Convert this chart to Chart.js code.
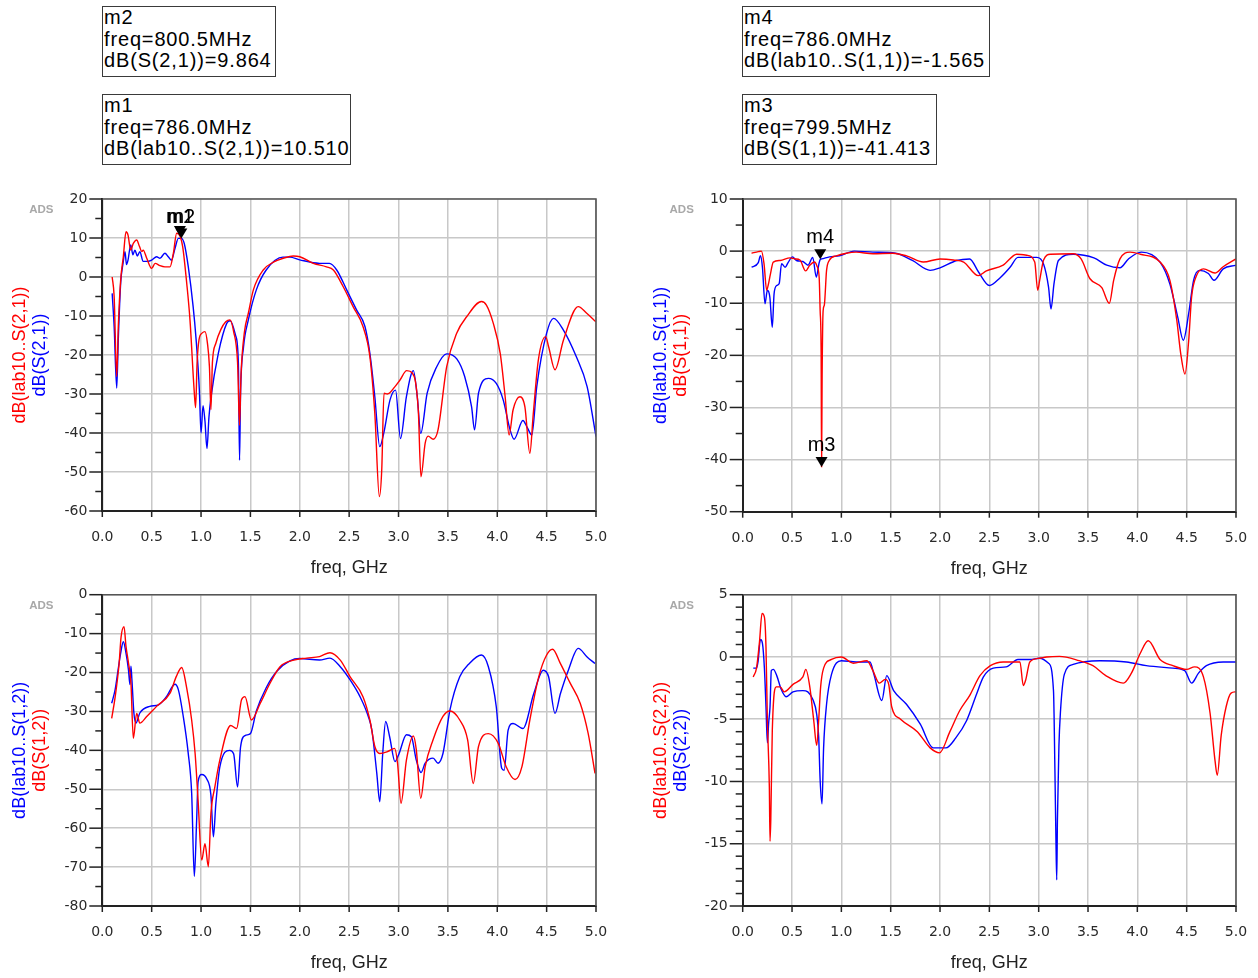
<!DOCTYPE html>
<html><head><meta charset="utf-8">
<script src="https://cdn.jsdelivr.net/npm/chart.js@4.4.1/dist/chart.umd.min.js"></script>
<style>
html,body{margin:0;padding:0;background:#fff;}
body{width:1258px;height:978px;position:relative;overflow:hidden;font-family:"Liberation Sans",Arial,sans-serif;}
.box{position:absolute;box-sizing:border-box;border:1.5px solid #3a3a3a;background:#fff;font-size:20px;line-height:21.5px;letter-spacing:0.85px;color:#000;padding:0 0 0 1px;white-space:pre;}
canvas{position:absolute;}
</style></head>
<body>
<div class="box" style="left:102px;top:6px;width:174px;height:71px">m2
freq=800.5MHz
dB(S(2,1))=9.864</div>
<div class="box" style="left:102px;top:94px;width:249px;height:71px">m1
freq=786.0MHz
dB(lab10..S(2,1))=10.510</div>
<div class="box" style="left:742px;top:6px;width:248px;height:71px">m4
freq=786.0MHz
dB(lab10..S(1,1))=-1.565</div>
<div class="box" style="left:742px;top:94px;width:195px;height:71px">m3
freq=799.5MHz
dB(S(1,1))=-41.413</div>

<canvas id="cTL" width="629" height="400" style="left:0;top:180px"></canvas>
<canvas id="cTR" width="629" height="400" style="left:629px;top:180px"></canvas>
<canvas id="cBL" width="629" height="398" style="left:0;top:580px"></canvas>
<canvas id="cBR" width="629" height="398" style="left:629px;top:580px"></canvas>

<script>
// ---------- DATA ----------
const xTicks = [0.0,0.5,1.0,1.5,2.0,2.5,3.0,3.5,4.0,4.5,5.0];

// Top-left: dB(lab10..S(2,1)) red, dB(S(2,1)) blue
const tlRedF = [0.10,0.12,0.146,0.162,0.186,0.213,0.24,0.26,0.288,0.314,0.348,0.377,0.40,0.414,0.45,0.50,0.535,0.584,0.634,0.686,0.72,0.753,0.786,0.814,0.855,0.888,0.93,0.945,0.96,0.98,1.01,1.04,1.065,1.085,1.10,1.115,1.15,1.20,1.25,1.293,1.33,1.37,1.39,1.405,1.44,1.479,1.53,1.63,1.733,1.833,1.934,2.0,2.137,2.27,2.34,2.44,2.54,2.64,2.71,2.76,2.806,2.83,2.853,2.887,2.964,3.015,3.083,3.14,3.2,3.227,3.27,3.3,3.352,3.40,3.488,3.589,3.69,3.84,3.89,3.96,4.03,4.08,4.12,4.16,4.23,4.28,4.33,4.365,4.416,4.49,4.52,4.585,4.67,4.82,4.906,5.0];
const tlRedDb = [0,-5,-25.5,-12.7,-0.8,5.2,11.6,10.8,6.9,8.6,9.5,7.8,6.5,6.9,4.8,2.2,3.5,2.9,2.6,2.6,6.1,11.2,10.5,7.8,-1.6,-11,-29,-33.5,-22,-16,-14.4,-14,-17,-23,-34,-22,-17,-13.5,-11.5,-11,-14,-22,-38,-25,-14,-9.3,-3.3,1.8,3.8,4.8,5.4,5.2,3.5,2.6,1.8,-2.5,-7.6,-12.7,-20.4,-35,-56.3,-49.5,-29.8,-30,-28.1,-26.4,-24,-24.6,-34.1,-51.2,-42.6,-40.8,-41.6,-39.2,-23,-14.4,-10.2,-6.3,-7.2,-11.9,-19.6,-30.7,-40.5,-34.1,-30.7,-33.3,-45.2,-35,-21.3,-15.3,-17.9,-23.8,-16.2,-7.6,-9.3,-11.5];
const tlBlueF = [0.10,0.12,0.146,0.162,0.186,0.21,0.23,0.245,0.26,0.288,0.31,0.33,0.355,0.38,0.414,0.46,0.50,0.55,0.584,0.634,0.668,0.70,0.736,0.77,0.80,0.83,0.871,0.92,0.95,0.983,1.0,1.02,1.04,1.06,1.08,1.10,1.175,1.26,1.295,1.35,1.378,1.39,1.40,1.43,1.479,1.56,1.66,1.83,1.9,2.0,2.2,2.3,2.374,2.475,2.576,2.66,2.71,2.76,2.81,2.85,2.914,2.97,3.02,3.08,3.15,3.19,3.225,3.29,3.387,3.488,3.59,3.67,3.74,3.77,3.81,3.91,3.99,4.06,4.13,4.17,4.26,4.3,4.35,4.4,4.5,4.57,4.67,4.8,4.91,5.0];
const tlBlueDb = [-4.2,-12.7,-28.5,-16,-1.6,3.5,6.5,3.2,4.3,8.2,5.7,6.9,5.4,6.5,4,4,4.3,5.2,4.8,6.1,5.2,4.3,7.3,9.9,9.9,8.6,2.6,-7.6,-16,-29,-40,-33,-37,-44,-36,-31,-19.6,-11.9,-11.2,-15,-22,-47,-30,-18,-11,-3.3,1.8,5.1,5.1,4.4,3.5,3.5,1.8,-3.3,-8.5,-12.7,-19.6,-30.7,-43.5,-40.1,-31.5,-29,-41.4,-30.7,-24,-30.7,-40.1,-29.8,-23,-19.7,-21,-25.5,-33.3,-39.2,-29.8,-26,-27.3,-31.5,-39.2,-41.6,-36.8,-38.4,-40.5,-28.1,-14.4,-10.6,-13.6,-20.4,-28.1,-40.9];

// Top-right: dB(lab10..S(1,1)) blue, dB(S(1,1)) red
const trRedF = [0.09,0.158,0.19,0.216,0.243,0.26,0.28,0.31,0.38,0.48,0.53,0.58,0.638,0.68,0.73,0.753,0.775,0.785,0.795,0.7995,0.805,0.815,0.827,0.85,0.877,0.95,1.05,1.15,1.32,1.52,1.66,1.83,2.0,2.135,2.24,2.388,2.47,2.64,2.777,2.88,2.96,2.99,3.01,3.05,3.12,3.35,3.43,3.52,3.64,3.716,3.76,3.824,3.926,4.03,4.23,4.33,4.4,4.44,4.483,4.52,4.55,4.6,4.67,4.787,4.87,5.0];
const trRedDb = [-0.4,-0.1,0,-2.4,-7.5,-6.4,-4.5,-2.1,-1.8,-1.3,-1.5,-1.7,-3.8,-2.7,-2.1,-2.9,-5,-11.4,-19.7,-41.4,-24,-11.5,-10.4,-3.7,-1.8,-0.9,-0.4,-0.2,-0.5,-0.4,-0.9,-2.1,-1.5,-1.7,-2.1,-4.7,-3.8,-2.7,-0.6,-0.8,-2.1,-7.5,-5.6,-1.7,-0.6,-0.5,-1.5,-5.3,-7,-10,-5.6,-1.5,-0.2,-0.6,-2.1,-5.6,-13.3,-19.7,-23.6,-17.3,-8.8,-4.7,-3.4,-4.2,-3,-1.5];
const trBlueF = [0.09,0.158,0.18,0.2,0.226,0.25,0.275,0.3,0.318,0.345,0.37,0.394,0.43,0.46,0.505,0.545,0.61,0.662,0.71,0.746,0.773,0.786,0.8,0.88,0.98,1.13,1.32,1.55,1.72,1.9,2.0,2.17,2.3,2.39,2.5,2.61,2.71,2.79,2.98,3.05,3.1,3.125,3.155,3.2,3.35,3.56,3.69,3.824,3.91,4.04,4.23,4.33,4.41,4.466,4.52,4.57,4.63,4.72,4.777,4.87,5.0];
const trBlueDb = [-3.1,-2.2,-0.9,-3.1,-10.1,-7.5,-8.8,-14.6,-8.2,-6.6,-6.2,-2.4,-3.1,-2.2,-1.1,-1.8,-2,-2.7,-1.2,-5,-2.4,-1.6,-1.5,-1.1,-0.9,0,-0.2,-0.4,-1.8,-3.7,-3.2,-1.8,-1.5,-4,-6.6,-5.1,-3.1,-1.2,-1.2,-2.5,-6.9,-11.1,-6.3,-1.8,-0.6,-1.3,-2.7,-3.2,-1.5,-0.2,-2.1,-6.3,-12.7,-17.1,-12,-5.6,-3.7,-4.3,-5.6,-3.4,-2.7];

// Bottom-left: dB(lab10..S(1,2)) blue, dB(S(1,2)) red
const blBlueF = [0.095,0.13,0.16,0.186,0.213,0.24,0.265,0.28,0.29,0.30,0.32,0.341,0.38,0.48,0.57,0.65,0.736,0.77,0.82,0.87,0.905,0.932,0.955,0.97,1.007,1.057,1.10,1.125,1.15,1.19,1.29,1.33,1.37,1.40,1.445,1.50,1.56,1.66,1.77,1.90,2.0,2.2,2.306,2.41,2.51,2.61,2.694,2.73,2.78,2.81,2.84,2.87,2.91,2.964,3.006,3.08,3.13,3.18,3.228,3.27,3.35,3.40,3.45,3.521,3.62,3.72,3.84,3.91,3.99,4.045,4.07,4.11,4.16,4.26,4.37,4.466,4.52,4.585,4.64,4.72,4.82,4.91,4.99];
const blBlueDb = [-27.9,-24.4,-19.3,-15,-12.1,-15,-19.3,-23.1,-18.4,-21.9,-30.4,-33,-30.4,-28.7,-28.3,-26.2,-23,-24.4,-31.3,-40.7,-51,-72.4,-58.3,-48.1,-46.2,-47.3,-51.5,-62.2,-53.7,-44.3,-40,-40.9,-49.4,-39.2,-36.2,-35.7,-29.9,-23.9,-19.6,-17,-16.4,-16.8,-16.3,-18.5,-21.9,-26.2,-31.3,-34.8,-45.9,-53.2,-40.8,-32.6,-36.5,-42.9,-40.8,-36,-36.5,-42.5,-45.7,-43.3,-42,-43.3,-40.8,-29.6,-21.1,-17.6,-15.5,-18.5,-28.8,-44.6,-45.1,-34.8,-33.1,-34.4,-25.4,-19.4,-21.1,-30.5,-25.4,-19.4,-13.8,-16,-17.7];
const blRedF = [0.095,0.13,0.17,0.19,0.22,0.24,0.265,0.29,0.314,0.348,0.38,0.45,0.55,0.686,0.75,0.804,0.855,0.905,0.94,0.97,1.007,1.04,1.074,1.10,1.14,1.19,1.30,1.36,1.41,1.445,1.51,1.60,1.70,1.80,1.94,2.07,2.2,2.306,2.41,2.51,2.64,2.71,2.76,2.81,2.89,2.96,2.99,3.025,3.08,3.15,3.18,3.225,3.27,3.35,3.45,3.52,3.62,3.70,3.757,3.81,3.91,4.01,4.09,4.18,4.25,4.33,4.42,4.50,4.56,4.64,4.74,4.84,4.92,4.99];
const blRedDb = [-31.8,-26.3,-17.8,-10.9,-8.2,-13.3,-17.5,-22.6,-36.9,-30.5,-33,-31.3,-28.7,-25.3,-21,-18.7,-24,-32.2,-40.8,-52.8,-68.2,-64,-69.9,-56.2,-49.4,-42.5,-33.6,-34.4,-27,-26.2,-32.2,-27.9,-22.7,-18.5,-16.8,-16.3,-15.9,-14.9,-16.8,-21.1,-26.2,-32.2,-39,-40.8,-40.3,-39.5,-43.3,-53.6,-42.5,-36.3,-39.8,-52.3,-44.2,-37.3,-31.3,-29.9,-32.2,-37.3,-48.5,-39,-35.7,-38.2,-44.2,-47.5,-44.2,-32.2,-21.1,-15.5,-14,-17.7,-22.8,-27.9,-35.6,-45.9];

// Bottom-right: dB(lab10..S(2,2)) red, dB(S(2,2)) blue
const brRedF = [0.107,0.14,0.17,0.196,0.22,0.236,0.25,0.27,0.277,0.285,0.30,0.34,0.38,0.42,0.51,0.61,0.64,0.68,0.72,0.75,0.77,0.79,0.82,0.90,1.0,1.12,1.26,1.32,1.385,1.445,1.48,1.51,1.60,1.77,1.90,1.995,2.1,2.2,2.3,2.405,2.51,2.64,2.81,2.844,2.87,2.91,3.01,3.08,3.21,3.41,3.55,3.68,3.858,3.94,4.03,4.11,4.23,4.36,4.5,4.58,4.67,4.737,4.787,4.81,4.85,4.9,4.95,5.0];
const brRedDb = [-1.6,-0.9,1.2,3.5,3.2,0.8,-5.1,-10.4,-14.8,-13,-5.9,-2.4,-2.4,-2.8,-2.2,-1.6,-1.0,-2.4,-5.1,-7.1,-5.1,-2.4,-0.9,-0.2,0,-0.5,-0.3,-1.1,-2.1,-1.8,-2.2,-4.0,-5.0,-6.0,-7.3,-7.7,-6.0,-4.3,-3.1,-1.5,-0.7,-0.4,-0.4,-2.3,-1.8,-0.4,-0.1,0,0.05,-0.3,-0.7,-1.5,-2.1,-1.3,0.3,1.3,-0.2,-0.7,-1.0,-0.8,-1.6,-4.5,-8.3,-9.5,-6.3,-4.0,-2.9,-2.8];
const brBlueF = [0.107,0.14,0.155,0.18,0.2,0.22,0.236,0.25,0.263,0.277,0.29,0.31,0.345,0.39,0.44,0.51,0.61,0.66,0.71,0.75,0.77,0.785,0.804,0.82,0.85,0.90,1.0,1.15,1.29,1.33,1.41,1.46,1.53,1.66,1.80,1.93,2.06,2.16,2.27,2.37,2.44,2.54,2.67,2.79,2.91,3.01,3.10,3.15,3.165,3.175,3.183,3.19,3.205,3.22,3.26,3.35,3.62,3.89,4.09,4.36,4.48,4.55,4.62,4.70,4.87,5.0];
const brBlueDb = [-0.9,-0.9,-0.4,1.4,1.1,-0.9,-4.0,-6.9,-5.3,-4.0,-1.1,-1.0,-1.5,-2.6,-3.2,-2.8,-2.7,-2.8,-3.4,-4.6,-6.4,-9.9,-11.8,-7.3,-3.8,-1.4,-0.3,-0.4,-0.4,-1.4,-3.5,-1.5,-2.7,-3.8,-5.4,-7.3,-7.3,-6.5,-5.1,-3.0,-1.6,-0.9,-0.8,-0.2,-0.2,-0.1,-0.5,-2.7,-9.3,-14.7,-17.9,-13.1,-7.2,-4.5,-1.4,-0.6,-0.3,-0.4,-0.7,-0.9,-1.1,-2.1,-1.3,-0.7,-0.4,-0.4];

// markers [label, freq GHz, dB]
const tlMarkers = [["m1",0.786,10.510],["m2",0.8005,9.864]];
const trMarkers = [["m4",0.786,-1.565],["m3",0.7995,-41.413]];

// ---------- DRAWING ----------
const RED = '#ff0000', BLUE = '#0000ff';
const TICK_FONT = {family:'"DejaVu Sans", Verdana, sans-serif', size:14};

const framePlugin = {
  id:'frame',
  afterDraw(chart, args, o) {
    const ctx = chart.ctx, a = chart.chartArea, xs = chart.scales.x, ys = chart.scales.y;
    ctx.save();
    ctx.strokeStyle = '#555'; ctx.lineWidth = 1.6;
    ctx.beginPath(); ctx.moveTo(a.left, a.top); ctx.lineTo(a.right, a.top); ctx.lineTo(a.right, a.bottom); ctx.stroke();
    ctx.strokeStyle = '#222'; ctx.lineWidth = 1.5;
    const n = Math.round((ys.max - ys.min) / o.minor);
    for (let i = 0; i <= n; i++) {
      const v = ys.min + i * o.minor;
      const py = ys.getPixelForValue(v);
      const r = v / o.major, major = Math.abs(r - Math.round(r)) < 1e-6;
      const len = major ? 13 : 7;
      ctx.beginPath(); ctx.moveTo(a.left - len, py); ctx.lineTo(a.left, py); ctx.stroke();
    }
    xTicks.forEach(v => {
      const px = xs.getPixelForValue(v);
      ctx.beginPath(); ctx.moveTo(px, a.bottom); ctx.lineTo(px, a.bottom + 6); ctx.stroke();
    });
    ctx.fillStyle = '#a8a8a8'; ctx.font = 'bold 11.5px "Liberation Sans", Arial, sans-serif';
    ctx.textAlign = 'center'; ctx.textBaseline = 'middle';
    ctx.fillText('ADS', a.left - 61, a.top + 11);
    ctx.font = '18px "Liberation Sans", Arial, sans-serif';
    const cy = (a.top + a.bottom) / 2;
    o.titles.forEach((t, i) => {
      ctx.save();
      ctx.translate(a.left - 82 + i * 20, cy);
      ctx.rotate(-Math.PI / 2);
      ctx.fillStyle = t[1];
      ctx.fillText(t[0], 0, 0);
      ctx.restore();
    });
    ctx.fillStyle = '#222';
    ctx.fillText('freq, GHz', (a.left + a.right) / 2, a.bottom + 57);
    // markers: triangle tip on the trace value, label above
    ctx.font = '20px "Liberation Sans", Arial, sans-serif';
    ctx.textBaseline = 'alphabetic';
    const pts = (o.markers || []).map(m => ({t: m[0], x: xs.getPixelForValue(m[1]), y: ys.getPixelForValue(m[2])}));
    pts.forEach((p, i) => {
      ctx.fillStyle = '#000';
      ctx.beginPath(); ctx.moveTo(p.x - 6, p.y - 10); ctx.lineTo(p.x + 6, p.y - 10); ctx.lineTo(p.x, p.y); ctx.closePath(); ctx.fill();
      // overlapping markers share one label line
      let ly = p.y;
      pts.forEach(q => { if (Math.abs(q.x - p.x) < 6 && Math.abs(q.y - p.y) < 8) ly = Math.max(ly, q.y); });
      ctx.fillText(p.t, p.x, ly - 16);
    });
    ctx.restore();
  }
};

function ds(f, d, color) {
  return {data: f.map((x, i) => ({x: x, y: d[i]})), borderColor: color, borderWidth: 1.4,
          pointRadius: 0, cubicInterpolationMode: 'monotone', fill: false, borderJoinStyle: 'round'};
}

function makeChart(id, area, ymin, ymax, ystep, minor, series, titles, markers) {
  const cv = document.getElementById(id);
  const W = cv.width, H = cv.height;
  return new Chart(cv, {
    type: 'line',
    data: {datasets: series},
    options: {
      responsive: false, animation: false, devicePixelRatio: 1,
      layout: {padding: {left: 0, top: area[1], right: W - area[2], bottom: 0}},
      plugins: {legend: {display: false}, tooltip: {enabled: false},
                frame: {minor: minor, major: ystep, titles: titles, markers: markers}},
      scales: {
        x: {type: 'linear', min: 0, max: 5,
            afterFit(s) { s.height = H - area[3]; s.paddingLeft = 0; s.paddingRight = 0; s.paddingTop = 0; s.paddingBottom = 0; },
            afterBuildTicks(s) { s.ticks = xTicks.map(v => ({value: v})); },
            ticks: {callback: v => Number(v).toFixed(1), padding: 18, font: TICK_FONT, color: '#2a2a2a', maxRotation: 0, autoSkip: false},
            grid: {color: '#c8c8c8', lineWidth: 1.5, drawTicks: false},
            border: {color: '#222', width: 2}},
        y: {type: 'linear', min: ymin, max: ymax,
            afterFit(s) { s.width = area[0]; s.paddingTop = 0; s.paddingBottom = 0; s.paddingLeft = 0; s.paddingRight = 0; },
            ticks: {stepSize: ystep, padding: 15, font: TICK_FONT, color: '#2a2a2a'},
            grid: {color: '#c8c8c8', lineWidth: 1.5, drawTicks: false},
            border: {color: '#222', width: 2}}
      }
    },
    plugins: [framePlugin]
  });
}

makeChart('cTL', [102.3, 19, 596, 331], -60, 20, 10, 5,
  [ds(tlRedF, tlRedDb, RED), ds(tlBlueF, tlBlueDb, BLUE)],
  [['dB(lab10..S(2,1))', RED], ['dB(S(2,1))', BLUE]], tlMarkers);
makeChart('cTR', [113.7, 19, 607, 331.7], -50, 10, 10, 5,
  [ds(trRedF, trRedDb, RED), ds(trBlueF, trBlueDb, BLUE)],
  [['dB(lab10..S(1,1))', BLUE], ['dB(S(1,1))', RED]], trMarkers);
makeChart('cBL', [102.3, 14.7, 596, 326], -80, 0, 10, 5,
  [ds(blRedF, blRedDb, RED), ds(blBlueF, blBlueDb, BLUE)],
  [['dB(lab10..S(1,2))', BLUE], ['dB(S(1,2))', RED]], []);
makeChart('cBR', [113.7, 14.7, 607, 326], -20, 5, 5, 1,
  [ds(brRedF, brRedDb, RED), ds(brBlueF, brBlueDb, BLUE)],
  [['dB(lab10..S(2,2))', RED], ['dB(S(2,2))', BLUE]], []);
</script>
</body></html>
